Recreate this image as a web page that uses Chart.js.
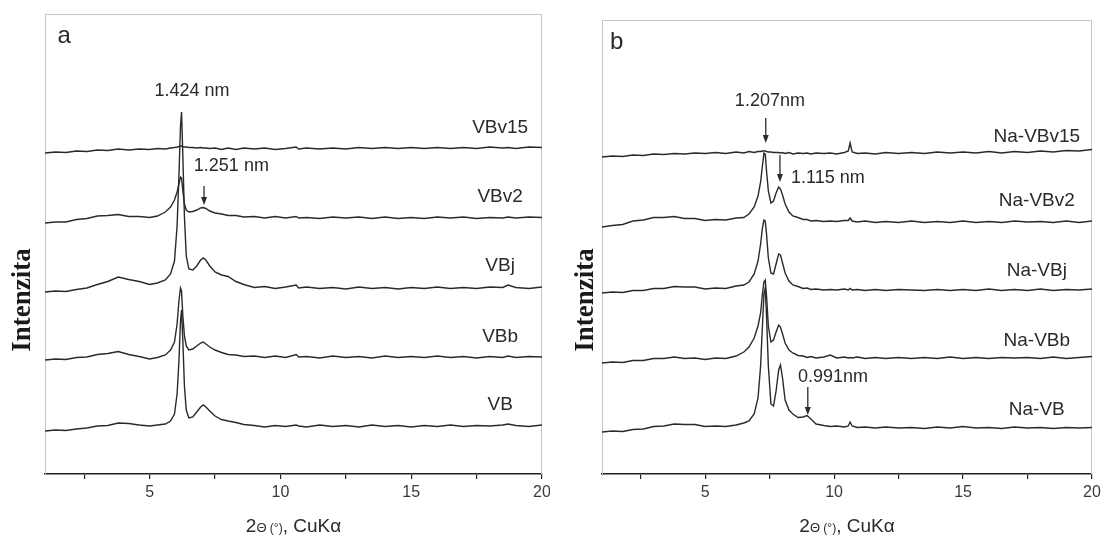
<!DOCTYPE html>
<html>
<head>
<meta charset="utf-8">
<script src="https://cdn.jsdelivr.net/npm/chart.js"></script>
<style>
  html, body { margin: 0; padding: 0; background: #fff; }
  #wrap { position: relative; width: 1101px; height: 538px; overflow: hidden; background: #fff; }
  canvas { position: absolute; top: 0; }
  #chartA { left: 0; }
  #chartB { left: 550px; }
</style>
</head>
<body>
<div id="wrap">
  <canvas id="chartA" width="550" height="538"></canvas>
  <canvas id="chartB" width="551" height="538"></canvas>
</div>
<script>
// x axis ticks (2-theta, deg)
const xTicks = [2.5, 5, 7.5, 10, 12.5, 15, 17.5, 20];
const xTickLabels = [5, 10, 15, 20];

// panel a: 2-theta sampling points
const xA = [1.0, 1.4, 1.8, 2.2, 2.6, 3.0, 3.4, 3.8, 4.2, 4.6,
  5.0, 5.3, 5.6, 5.8, 5.95, 6.05, 6.12, 6.18, 6.22, 6.27,
  6.33, 6.4, 6.5, 6.65, 6.8, 6.95, 7.05, 7.15, 7.3, 7.5,
  7.75, 8.0, 8.3, 8.6, 9.0, 9.4, 9.8, 10.2, 10.6, 10.7,
  11.0, 11.5, 12.0, 12.5, 13.0, 13.5, 14.0, 14.5, 15.0, 15.5,
  16.0, 16.5, 17.0, 17.5, 18.0, 18.5, 18.7, 19.0, 19.5, 20.0];

// stacked intensities (a.u., traces offset)
const VB = [35, 36, 35.5, 37, 38, 40, 40.5, 43, 42.5, 41,
  40, 41, 42, 45, 52, 72, 105, 145, 156, 125,
  80, 56, 48, 49, 54, 59, 61, 59, 55, 50,
  46.5, 45, 43.5, 41.5, 40.5, 39, 40.5, 39.5, 41, 40,
  39, 41, 39.5, 40.5, 39, 41, 39.5, 40.5, 39, 40.5,
  39.5, 41, 39.5, 40.5, 40, 41, 42, 40.5, 39.5, 41];
const VBb = [106, 107, 106.5, 108.5, 109, 111.5, 112.5, 114.5, 111.5, 109.5,
  107, 108.5, 111, 116, 124, 142, 165, 178, 175, 150,
  130, 120, 116, 117, 120, 123, 124, 122, 119, 116,
  113.5, 111.5, 111, 109.5, 110, 108.5, 110, 108.5, 111.5, 109,
  109.5, 108, 110, 108.5, 109.5, 108, 110, 108.5, 109.5, 108.5,
  110, 108.5, 109.5, 108, 109.5, 108.5, 110, 108.5, 109.5, 109];
const VBj = [174, 175, 174.5, 176.5, 178, 181.5, 184.5, 189, 186.5, 184.5,
  181.5, 183, 186, 192, 205, 240, 290, 340, 354, 310,
  250, 210, 197, 196, 200, 206, 208, 206, 200, 194,
  191, 189.5, 184.5, 181.5, 178.5, 179.5, 177.5, 179, 181, 178,
  179, 177.5, 178.5, 177, 179, 177.5, 178.5, 177, 178.5, 177.5,
  179, 177.5, 178.5, 177.5, 179, 178.5, 181, 178.5, 177.5, 179];
const VBv2 = [243, 244, 244, 246.5, 247.5, 250, 250.5, 251.5, 249.5, 249.5,
  248.5, 250, 254, 259, 266, 274, 282, 289, 288, 275,
  262, 256, 254, 254.5, 256, 258, 258.5, 257.5, 255, 253,
  252, 250.5, 250.5, 249, 249.5, 248, 249.5, 248, 249.5, 248,
  248.5, 247.5, 249, 248, 249, 247.5, 249, 247.5, 248.5, 247.5,
  249, 248, 249, 247.5, 248.5, 248, 249, 248, 249, 248.5];
const VBv15 = [313, 314, 313.5, 315, 314.5, 316, 315.5, 317, 316, 317,
  316.5, 317.5, 317, 318, 318.5, 319, 319.5, 320, 320, 319.5,
  319, 319, 318.5, 318.5, 318, 318.5, 318, 318, 317.5, 318,
  316.5, 318, 316.5, 318, 317, 318, 316.5, 317.5, 319, 317,
  318, 317, 318, 317, 318.5, 317.5, 318.5, 317.5, 318.5, 317.5,
  318.5, 317.5, 318.5, 317.5, 319, 318, 318.5, 317.5, 319, 318.5];

// panel b: 2-theta sampling points
const xB = [1.0, 1.4, 1.8, 2.2, 2.6, 3.0, 3.4, 3.8, 4.2, 4.6,
  5.0, 5.4, 5.8, 6.2, 6.5, 6.7, 6.9, 7.05, 7.15, 7.22,
  7.28, 7.33, 7.38, 7.45, 7.55, 7.65, 7.75, 7.85, 7.92, 8.0,
  8.1, 8.25, 8.4, 8.6, 8.8, 8.95, 9.1, 9.3, 9.6, 9.85,
  10.1, 10.4, 10.55, 10.62, 10.7, 10.9, 11.2, 11.6, 12.0, 12.5,
  13.0, 13.5, 14.0, 14.5, 15.0, 15.5, 16.0, 16.5, 17.0, 17.5,
  18.0, 18.5, 19.0, 19.5, 20.0];

const NaVB = [34, 35, 34.5, 36.5, 37, 39.5, 40, 42, 41.5, 41.5,
  39.5, 40, 39.5, 41, 43, 45, 52, 68, 100, 140,
  172, 178, 150, 100, 62, 60, 75, 96, 101, 88,
  66, 56, 52, 48.5, 49, 50.5, 47, 42, 40.5, 39.5,
  40, 39, 40, 44, 40, 38.5, 39, 38, 39, 38,
  38.5, 37.5, 39, 38, 39.5, 38, 38.5, 37.5, 39, 38,
  38.5, 37.5, 38.5, 38, 38.5];
const NaVBb = [103, 104, 103.5, 105.5, 105.5, 107.5, 107.5, 109, 107.5, 108,
  106.5, 108, 107.5, 110, 114, 119, 128, 140, 153, 172,
  184, 186, 170, 140, 124, 126, 134, 141, 139, 132,
  123, 116, 113, 110.5, 110, 108.5, 109.5, 108, 109, 111,
  108, 109, 108, 108.5, 108, 109, 107.5, 108.5, 107.5, 108.5,
  107.5, 108.5, 107.5, 109, 107.5, 108.5, 107.5, 108.5, 108, 108.5,
  107.5, 109, 107.5, 108.5, 109.5];
const NaVBj = [173, 174, 173.5, 175.5, 175.5, 177.5, 177.5, 179.5, 179, 179,
  177, 178, 177.5, 180, 181, 184, 192, 205, 222, 238,
  246, 245, 232, 208, 193, 192, 202, 212, 211, 203,
  193, 185, 181, 179.5, 177.5, 178, 176.5, 177, 176, 176.5,
  176, 177, 176, 177.5, 176, 176.5, 175.5, 176.5, 175.5, 176.5,
  176, 175.5, 176.5, 175.5, 176.5, 175.5, 177, 175.5, 176.5, 175.5,
  177, 175.5, 176.5, 176, 177];
const NaVBv2 = [239, 240.5, 241.5, 245, 246, 248.5, 248.5, 249.5, 247.5, 247.5,
  245.5, 246.5, 246, 248, 248.5, 252, 259, 270, 284, 300,
  313, 312, 295, 275, 263, 265, 273, 279, 277, 271,
  262, 254, 250, 248.5, 246.5, 246.5, 245, 245.5, 244.5, 245,
  244.5, 245.5, 245.5, 248, 245, 244, 245, 243.5, 244.5, 243.5,
  245, 243.5, 244.5, 243.5, 245, 243.5, 244.5, 243.5, 245, 244,
  244.5, 243.5, 245, 243.5, 245];
const NaVBv15 = [309, 310, 309.5, 311, 310.5, 312, 311.5, 312.5, 312, 313,
  312.5, 313.5, 312.5, 314, 313, 314.5, 313.5, 314.5, 314.5, 315,
  315, 315, 314.5, 314, 314, 313.5, 313.5, 313.5, 313, 313.5,
  312.5, 313.5, 312, 313, 312.5, 313, 312, 313, 312.5, 313,
  312, 313.5, 315, 323, 314, 312.5, 313, 312, 313.5, 312.5,
  313.5, 312.5, 314, 313, 314, 313, 314.5, 313, 314.5, 313.5,
  315, 314, 315.5, 315, 316.5];

const FONT = '"Liberation Sans", Arial, sans-serif';
const INK = '#2a2a2a';

// frame, labels, arrows and axis titles for one panel
function marks(cfg) {
  return {
    id: 'marks',
    beforeDatasetsDraw(chart) {
      const { ctx, chartArea: a } = chart;
      ctx.save();
      ctx.strokeStyle = '#c6c6c6';
      ctx.lineWidth = 1;
      ctx.beginPath();
      ctx.moveTo(a.left + 0.5, a.bottom);
      ctx.lineTo(a.left + 0.5, a.top + 0.5);
      ctx.lineTo(a.right - 0.5, a.top + 0.5);
      ctx.lineTo(a.right - 0.5, a.bottom);
      ctx.stroke();
      ctx.restore();
    },
    afterDraw(chart) {
      const { ctx, chartArea: a, scales: { x, y } } = chart;
      const px = v => x.getPixelForValue(v);
      const py = v => y.getPixelForValue(v);
      ctx.save();
      ctx.fillStyle = INK;
      ctx.strokeStyle = INK;
      ctx.textBaseline = 'middle';

      ctx.font = '24px ' + FONT;
      ctx.textAlign = 'left';
      ctx.fillText(cfg.letter, px(cfg.letterAt[0]), py(cfg.letterAt[1]));

      ctx.font = '18px ' + FONT;
      cfg.notes.forEach(n => {
        ctx.textAlign = n.align;
        ctx.fillText(n.text, px(n.x), py(n.y));
      });

      ctx.lineWidth = 1.3;
      cfg.arrows.forEach(r => {
        const ax = px(r.x), y1 = py(r.from), y2 = py(r.to);
        ctx.beginPath();
        ctx.moveTo(ax, y1);
        ctx.lineTo(ax, y2 - 6);
        ctx.stroke();
        ctx.beginPath();
        ctx.moveTo(ax - 3, y2 - 8);
        ctx.lineTo(ax + 3, y2 - 8);
        ctx.lineTo(ax, y2);
        ctx.closePath();
        ctx.fill();
      });

      ctx.font = '19px ' + FONT;
      ctx.textAlign = 'center';
      cfg.names.forEach(n => ctx.fillText(n.text, px(cfg.namesX), py(n.y)));

      // y title
      ctx.save();
      ctx.translate(a.left - cfg.yTitleGap, py(cfg.yTitleAt));
      ctx.rotate(-Math.PI / 2);
      ctx.font = 'bold 27px "Liberation Serif", "Times New Roman", serif';
      ctx.fillStyle = '#1a1a1a';
      ctx.textAlign = 'center';
      ctx.fillText('Intenzita', 0, 0);
      ctx.restore();

      // x title, mixed sizes
      const parts = [['2', 19], ['\u0398', 13], [' (\u00b0)', 12], [', CuK\u03b1', 19]];
      let total = 0;
      parts.forEach(p => { ctx.font = p[1] + 'px ' + FONT; total += ctx.measureText(p[0]).width; });
      let tx = (a.left + a.right) / 2 - total / 2;
      const ty = a.bottom + 58;
      ctx.textAlign = 'left';
      ctx.textBaseline = 'alphabetic';
      parts.forEach(p => {
        ctx.font = p[1] + 'px ' + FONT;
        ctx.fillText(p[0], tx, ty);
        tx += ctx.measureText(p[0]).width;
      });
      ctx.restore();
    }
  };
}

function makeChart(id, xs, series, pad, yMax, cfg) {
  return new Chart(document.getElementById(id), {
    type: 'line',
    data: {
      datasets: series.map(s => ({
        label: s[0],
        data: xs.map((x, i) => ({ x: x, y: s[1][i] })),
        borderColor: INK,
        borderWidth: 1.4,
        pointRadius: 0,
        tension: 0,
        fill: false
      }))
    },
    options: {
      responsive: false,
      animation: false,
      devicePixelRatio: 1,
      layout: { padding: pad },
      plugins: { legend: { display: false }, tooltip: { enabled: false } },
      scales: {
        x: {
          type: 'linear', min: 1, max: 20,
          afterBuildTicks: s => { s.ticks = xTicks.map(v => ({ value: v })); },
          afterFit: s => { s.height = 64; s.paddingLeft = 0; s.paddingRight = 0; },
          ticks: {
            autoSkip: false, maxRotation: 0, minRotation: 0, padding: 4,
            color: '#3a3a3a', font: { family: FONT, size: 16 },
            callback: v => xTickLabels.includes(v) ? String(v) : ''
          },
          grid: { drawOnChartArea: false, drawTicks: true, tickLength: 5, color: '#222', lineWidth: 1.2 },
          border: { display: true, color: '#222', width: 1.5 }
        },
        y: { display: false, min: -8, max: yMax }
      }
    },
    plugins: [marks(cfg)]
  });
}

makeChart('chartA', xA,
  [['VBv15', VBv15], ['VBv2', VBv2], ['VBj', VBj], ['VBb', VBb], ['VB', VB]],
  { left: 45, right: 8, top: 14, bottom: 0 }, 452,
  {
    letter: 'a', letterAt: [1.48, 430],
    notes: [
      { text: '1.424 nm', x: 6.62, y: 375, align: 'center' },
      { text: '1.251 nm', x: 6.69, y: 300, align: 'left' }
    ],
    arrows: [{ x: 7.08, from: 280, to: 261 }],
    namesX: 18.4,
    names: [
      { text: 'VBv15', y: 338 }, { text: 'VBv2', y: 269 }, { text: 'VBj', y: 200 },
      { text: 'VBb', y: 129 }, { text: 'VB', y: 61 }
    ],
    yTitleGap: 22, yTitleAt: 166
  });

makeChart('chartB', xB,
  [['Na-VBv15', NaVBv15], ['Na-VBv2', NaVBv2], ['Na-VBj', NaVBj], ['Na-VBb', NaVBb], ['Na-VB', NaVB]],
  { left: 52, right: 9, top: 20, bottom: 0 }, 446,
  {
    letter: 'b', letterAt: [1.31, 424],
    notes: [
      { text: '1.207nm', x: 7.51, y: 365, align: 'center' },
      { text: '1.115 nm', x: 8.33, y: 288, align: 'left' },
      { text: '0.991nm', x: 8.6, y: 89, align: 'left' }
    ],
    arrows: [
      { x: 7.35, from: 348, to: 323 },
      { x: 7.9, from: 311, to: 284 },
      { x: 8.98, from: 79, to: 51 }
    ],
    namesX: 17.86,
    names: [
      { text: 'Na-VBv15', y: 329 }, { text: 'Na-VBv2', y: 265 }, { text: 'Na-VBj', y: 195 },
      { text: 'Na-VBb', y: 125 }, { text: 'Na-VB', y: 56 }
    ],
    yTitleGap: 16, yTitleAt: 166
  });
</script>
</body>
</html>
